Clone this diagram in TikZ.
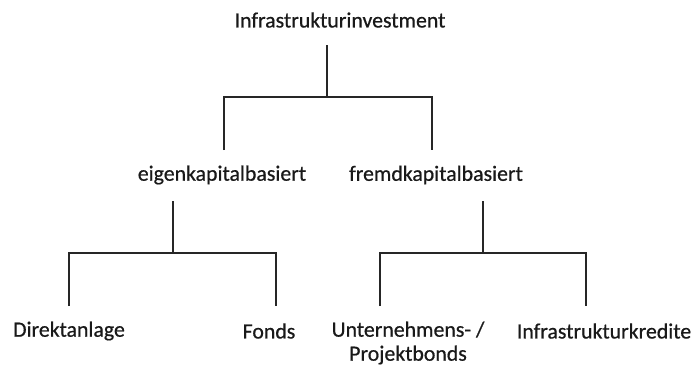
\documentclass[tikz,border=0pt]{standalone}
\usepackage{fontspec}
\setmainfont{Carlito}[FakeBold=0.6]
\begin{document}
\begin{tikzpicture}[x=1pt,y=-1pt,
  lbl/.style={inner sep=0pt, font=\fontsize{21.8}{24}\selectfont, text=black!90, align=center},
  link/.style={line width=1.8pt, draw=black!85}]
\useasboundingbox (0,0) rectangle (694,367);
% labels
\node[lbl] (root) at (340,20) {Infrastrukturinvestment};
\node[lbl] (eig)  at (222,175) {eigenkapitalbasiert};
\node[lbl] (frd)  at (436,175) {fremdkapitalbasiert};
\node[lbl] (dir)  at (69,331) {Direktanlage};
\node[lbl] (fon)  at (269,331) {Fonds};
\node[lbl] (bon)  at (408,343) {Unternehmens- /\\Projektbonds};
\node[lbl] (kre)  at (604,331) {Infrastrukturkredite};
% stub ends of the connectors
\coordinate (rootS) at (327,45);
\coordinate (rootJ) at (327,97);
\coordinate (eigN) at (224,150);
\coordinate (frdN) at (432,150);
\coordinate (eigS) at (173,201);
\coordinate (eigJ) at (173,253);
\coordinate (dirN) at (69,306);
\coordinate (fonN) at (276,306);
\coordinate (frdS) at (483,201);
\coordinate (frdJ) at (483,253);
\coordinate (bonN) at (380,306);
\coordinate (kreN) at (586,306);
% connectors
\draw[link] (rootS) -- (rootJ);
\draw[link] (eigN) |- (rootJ) -| (frdN);
\draw[link] (eigS) -- (eigJ);
\draw[link] (dirN) |- (eigJ) -| (fonN);
\draw[link] (frdS) -- (frdJ);
\draw[link] (bonN) |- (frdJ) -| (kreN);
\end{tikzpicture}
\end{document}
